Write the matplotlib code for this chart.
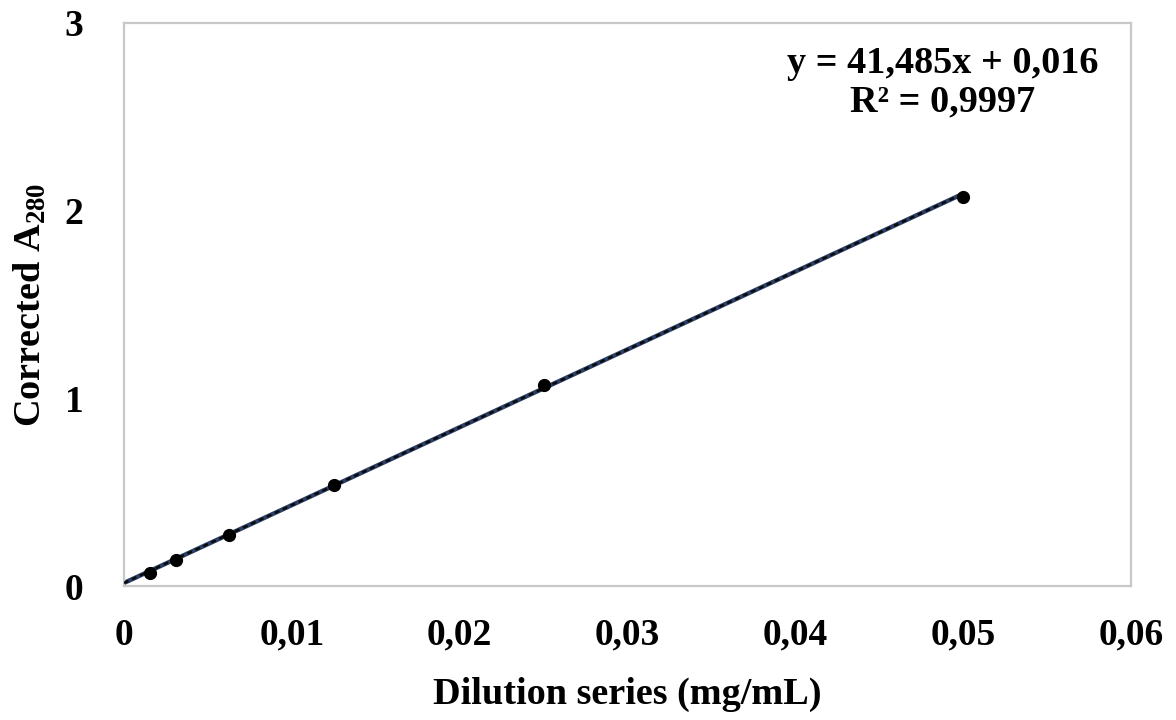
import matplotlib
matplotlib.use("Agg")
import matplotlib.pyplot as plt
import numpy as np

conc = [0.0015625, 0.003125, 0.00625, 0.0125, 0.025, 0.05]
absorb = [0.067, 0.141, 0.274, 0.540, 1.070, 2.075]
slope = 41.485
intercept = 0.016
xticks = [0, 0.01, 0.02, 0.03, 0.04, 0.05, 0.06]
xticklabels = ["0", "0,01", "0,02", "0,03", "0,04", "0,05", "0,06"]
yticks = [0, 1, 2, 3]
yticklabels = ["0", "1", "2", "3"]

plt.rcParams['font.family'] = ['Liberation Serif', 'DejaVu Serif']
plt.rcParams['font.weight'] = 'bold'
plt.rcParams['mathtext.fontset'] = 'custom'
plt.rcParams['mathtext.rm'] = 'Liberation Serif:bold'
plt.rcParams['mathtext.it'] = 'Liberation Serif:bold'
plt.rcParams['mathtext.bf'] = 'Liberation Serif:bold'

fig = plt.figure(figsize=(11.76, 7.2), dpi=100)
ax = fig.add_axes([0.1054, 0.1861, 0.8563, 0.782])

xl = np.array([0, 0.05])
yl = slope * xl + intercept
ax.plot(xl, yl, color='#2b3f66', lw=3.2, solid_capstyle='butt', zorder=2)
ax.plot(xl, yl, color='#0a0a0a', lw=1.8, ls=(0, (2, 1.5)), zorder=3)
ax.plot(conc, absorb, 'o', color='black', ms=8.5, zorder=4)

ax.set_xlim(0, 0.06)
ax.set_ylim(0, 3)
ax.set_xticks(xticks)
ax.set_xticklabels(xticklabels)
ax.set_yticks(yticks)
ax.set_yticklabels(yticklabels)
ax.tick_params(axis='both', length=0, labelsize=27)
ax.tick_params(axis='x', pad=23)
ax.tick_params(axis='y', pad=29)
for s in ax.spines.values():
    s.set_color('#c8c8c8')
    s.set_linewidth(1.6)

ax.set_xlabel("Dilution series (mg/mL)", fontsize=27.5, fontweight='bold', labelpad=17)
ax.set_ylabel("Corrected A$_{280}$", fontsize=27.5, fontweight='bold', labelpad=12)

ax.text(0.0488, 2.68, "y = 41,485x + 0,016\nR² = 0,9997", ha='center', va='center',
        fontsize=27.5, fontweight='bold', linespacing=1.12)

fig.savefig("out.png", dpi=100)
